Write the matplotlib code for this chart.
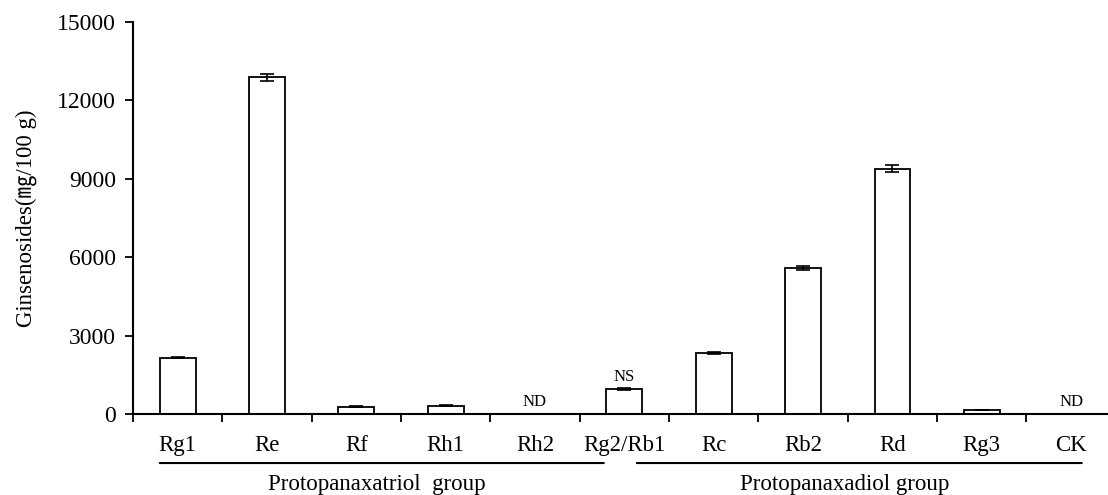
import numpy as np
import matplotlib
matplotlib.use("Agg")
import matplotlib.pyplot as plt

plt.rcParams['font.family'] = ['Liberation Serif', 'Noto Sans CJK SC', 'DejaVu Sans']

# data
names = ["Rg1", "Re", "Rf", "Rh1", "Rh2", "Rg2/Rb1", "Rc", "Rb2", "Rd", "Rg3", "CK"]
values = [2150, 12880, 280, 310, 0, 950, 2330, 5580, 9380, 150, 0]
errors = [25, 140, 20, 20, 0, 30, 40, 70, 130, 10, 0]
notes = {"Rh2": "ND", "Rg2/Rb1": "NS", "CK": "ND"}
# label, line start, line end, label centre (category units)
groups = [("Protopanaxatriol  group", -0.2, 4.77, 2.23),
          ("Protopanaxadiol group", 5.14, 10.12, 7.47)]

fig = plt.figure(figsize=(11.08, 4.95), dpi=100)
ax = fig.add_axes([0.12, 0.1636, 0.887, 0.792])

x = np.arange(len(names))
ax.bar(x, values, width=0.4, color="white", edgecolor="black", linewidth=1.3,
       yerr=errors, error_kw=dict(ecolor="black", elinewidth=1.2, capsize=5, capthick=1.2))

for i, n in enumerate(names):
    if n in notes:
        ax.text(i, values[i] + 150, notes[n], ha="center", va="bottom", fontsize=12)

ax.set_xlim(-0.5, 10.5)
ax.set_ylim(0, 15000)
ax.set_yticks([0, 3000, 6000, 9000, 12000, 15000])
ax.set_xticks(np.arange(-0.5, 11, 1))
ax.set_xticklabels([])
ax.set_xticks(x, minor=True)
ax.set_xticklabels(names, minor=True, fontsize=16.5)
ax.tick_params(axis="x", which="minor", length=0, pad=15)
ax.tick_params(axis="x", which="major", length=6, width=1.3, direction="out")
ax.tick_params(axis="y", length=6, width=1.3, direction="out", labelsize=17, pad=6)
for s in ["top", "right"]:
    ax.spines[s].set_visible(False)
for s in ["left", "bottom"]:
    ax.spines[s].set_linewidth(1.5)

ax.set_ylabel("Ginsenosides(㎎/100 g)", fontsize=16.5, labelpad=15)

# group lines and names under the tick labels
for label, x0, x1, xc in groups:
    ax.annotate("", xy=(x0, -0.125), xycoords=("data", "axes fraction"),
                xytext=(x1, -0.125), textcoords=("data", "axes fraction"),
                arrowprops=dict(arrowstyle="-", color="black", linewidth=1.5, shrinkA=0, shrinkB=0),
                annotation_clip=False)
    ax.text(xc, -0.18, label, transform=ax.get_xaxis_transform(),
            ha="center", va="center", fontsize=16.5)

plt.savefig("out.png", dpi=100)
